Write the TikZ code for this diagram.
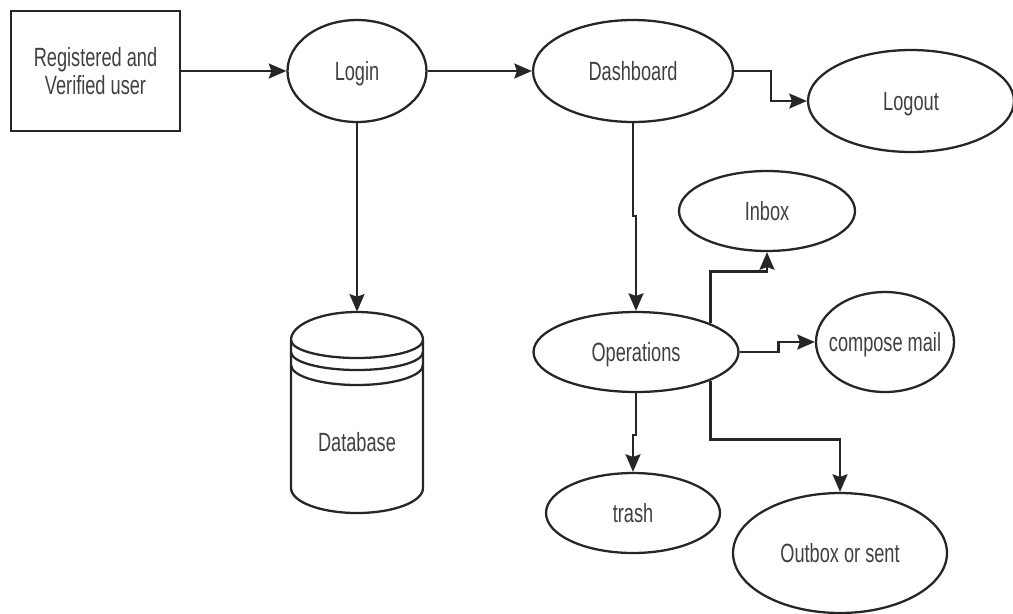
\documentclass[tikz,border=0pt]{standalone}
\usepackage{fontspec}
\setmainfont[FakeStretch=0.69]{Liberation Sans}
\usetikzlibrary{arrows.meta,shapes.geometric}
\tikzset{
  flowline/.style={draw=black!85, line width=1.3pt},
  link/.style={flowline, -{Stealth[length=10pt,width=8.5pt,inset=1.5pt]}},
  labeltext/.style={font=\fontsize{15}{15.5}\selectfont, text=black!75},
  oval/.style={ellipse, flowline, inner sep=0pt, labeltext, text height=10.8pt, text depth=0pt},
  userbox/.style={rectangle, flowline, inner sep=0pt, align=center, labeltext},
}
\begin{document}
\begin{tikzpicture}[x=0.02cm, y=-0.02cm]
            \useasboundingbox (0,0) rectangle (1013,613);

            \node[userbox, minimum width=3.38cm, minimum height=2.4cm] (user) at (95.5,71) {Registered and\\Verified user};
            \node[oval, minimum width=2.78cm, minimum height=2.04cm] (login) at (357,71) {Login};
            \node[oval, minimum width=4cm, minimum height=2.04cm] (dashboard) at (633,71) {Dashboard};
            \node[oval, minimum width=4.12cm, minimum height=2.04cm] (logout) at (911,101) {Logout};
            \node[oval, minimum width=3.52cm, minimum height=1.6cm] (inbox) at (767,211) {Inbox};
            \node[oval, minimum width=2.76cm, minimum height=2cm] (compose) at (885,342) {\makebox[0pt]{compose mail}};
            \node[oval, minimum width=4.1cm, minimum height=1.6cm] (operations) at (636,352) {Operations};
            \node[oval, minimum width=3.48cm, minimum height=1.6cm] (trash) at (633,513) {trash};
            \node[oval, minimum width=4.28cm, minimum height=2.4cm] (outbox) at (840,553) {Outbox or sent};

            % database drum
            \node[inner sep=0pt, minimum width=2.64cm, minimum height=4.02cm, label={[labeltext, yshift=-0.6cm]center:Database}] (database) at (357,412.5) {};
            \draw[flowline] (291,340) arc[start angle=180, end angle=360, x radius=66, y radius=28]
                -- (423,488) arc[start angle=0, end angle=180, x radius=66, y radius=25] -- cycle;
            \draw[flowline] (291,340) arc[start angle=180, end angle=0, x radius=66, y radius=18];
            \draw[flowline] (291,352) arc[start angle=180, end angle=0, x radius=66, y radius=18];
            \draw[flowline] (291,365) arc[start angle=180, end angle=0, x radius=66, y radius=20];

            \draw[link] (user.east) -- (login.west);
            \draw[link] (login.east) -- (dashboard.west);
            \draw[link] (login.south) -- (database.north);
            \draw[link] (dashboard.east) -- ++(37,0) |- (logout.west);
            \draw[link] (dashboard.south) -- ++(0,93) -| (operations.north);
            \draw[link] (operations.21) -- ++(0,-52) -| (inbox.south);
            \draw[link] (operations.east) -- ++(39,0) |- (compose.west);
            \draw[link] (operations.south) -- ++(0,42) -| (trash.north);
            \draw[link] (operations.-21) -- ++(0,59) -| (outbox.north);
        \end{tikzpicture}
\end{document}
